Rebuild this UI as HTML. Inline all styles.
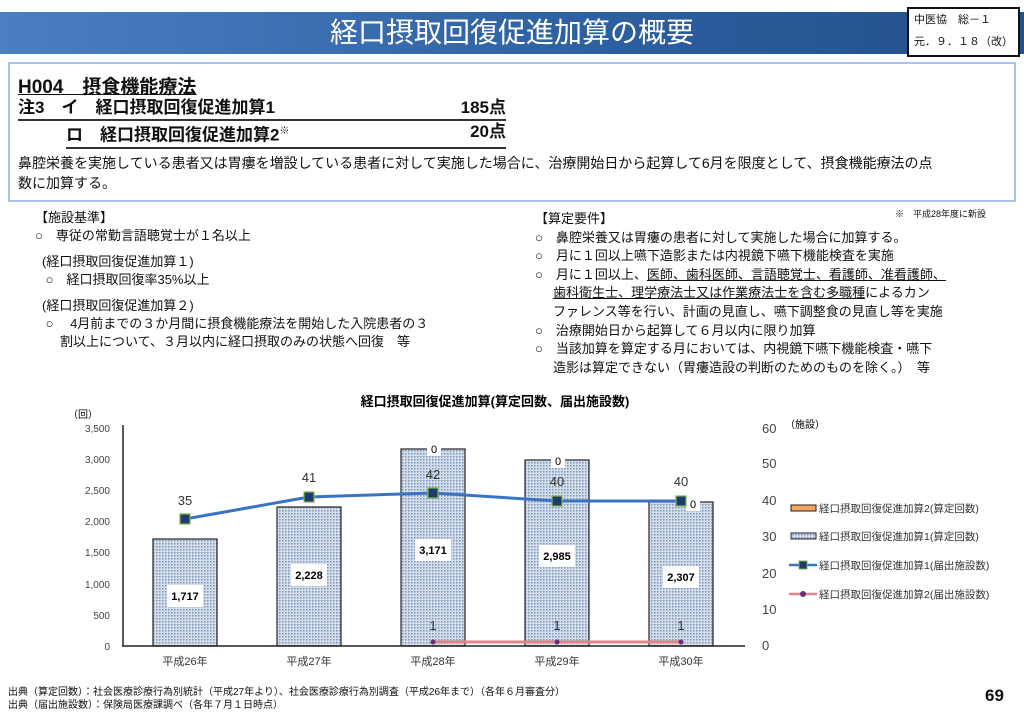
<!DOCTYPE html><html><head><meta charset="utf-8"><style>
body{margin:0;width:1024px;height:715px;background:#fff;position:relative;overflow:hidden;font-family:"Liberation Sans","Noto Sans CJK JP",sans-serif;color:#111}
.a{position:absolute;white-space:nowrap}
</style></head><body>
<div class="a" style="left:0;top:12px;width:1024px;height:42px;background:linear-gradient(90deg,#4a7fc2,#2c5f9f 60%,#23508a)"></div>
<div class="a" style="left:0;top:12px;width:1024px;text-align:center;color:#fff;font-size:28px;line-height:42px;padding-right:10px">経口摂取回復促進加算の概要</div>
<div class="a" style="left:907px;top:7px;width:104px;height:46px;background:#fff;border:2px solid #111;font-size:11px;line-height:22px;padding-left:5px;overflow:hidden">中医協　総－１<br>元．９．１８（改）</div>
<div class="a" style="left:8px;top:62px;width:1004px;height:136px;border:2px solid #a9c4e8"></div>
<div class="a" style="left:18px;top:72px;font-size:19px;font-weight:bold;text-decoration:underline">H004　摂食機能療法</div>
<div class="a" style="left:18px;top:97px;width:488px;font-size:17px;font-weight:bold;border-bottom:2px solid #333;line-height:22px">注3　イ　経口摂取回復促進加算1<span style="position:absolute;right:0">185点</span></div>
<div class="a" style="left:66px;top:121px;width:440px;font-size:17px;font-weight:bold;border-bottom:2px solid #333;line-height:22px">ロ　経口摂取回復促進加算2<sup style="font-size:10px">※</sup><span style="position:absolute;right:0">20点</span></div>
<div class="a" style="left:18px;top:153px;font-size:14px;line-height:20px">鼻腔栄養を実施している患者又は胃瘻を増設している患者に対して実施した場合に、治療開始日から起算して6月を限度として、摂食機能療法の点<br>数に加算する。</div>
<div class="a" style="left:895px;top:207px;font-size:9px">※　平成28年度に新設</div>
<div class="a" style="left:35px;top:209px;font-size:13px;line-height:18px">【施設基準】<br>○　専従の常勤言語聴覚士が１名以上</div>
<div class="a" style="left:42px;top:253px;font-size:13px;line-height:18px">(経口摂取回復促進加算１)<br>&nbsp;○　経口摂取回復率35%以上</div>
<div class="a" style="left:42px;top:297px;font-size:13px;line-height:18px">(経口摂取回復促進加算２)<br>&nbsp;○　 4月前までの３か月間に摂食機能療法を開始した入院患者の３<br>&nbsp;&nbsp;&nbsp;&nbsp;&nbsp;割以上について、３月以内に経口摂取のみの状態へ回復　等</div>
<div class="a" style="left:535px;top:210px;font-size:13px;line-height:18.6px">【算定要件】<br>○　鼻腔栄養又は胃瘻の患者に対して実施した場合に加算する。<br>○　月に１回以上嚥下造影または内視鏡下嚥下機能検査を実施<br>○　月に１回以上、<u>医師、歯科医師、言語聴覚士、看護師、准看護師、</u><br>&nbsp;&nbsp;&nbsp;&nbsp;&nbsp;<u>歯科衛生士、理学療法士又は作業療法士を含む多職種</u>によるカン<br>&nbsp;&nbsp;&nbsp;&nbsp;&nbsp;ファレンス等を行い、計画の見直し、嚥下調整食の見直し等を実施<br>○　治療開始日から起算して６月以内に限り加算<br>○　当該加算を算定する月においては、内視鏡下嚥下機能検査・嚥下<br>&nbsp;&nbsp;&nbsp;&nbsp;&nbsp;造影は算定できない（胃瘻造設の判断のためのものを除く。）　等</div>
<svg class="a" style="left:0;top:385px" width="1024" height="300" viewBox="0 385 1024 300" font-family="Liberation Sans,Noto Sans CJK JP,sans-serif">
<defs><pattern id="p" width="3" height="3" patternUnits="userSpaceOnUse"><rect width="3" height="3" fill="#d5deeb"/><rect width="1.5" height="1.5" fill="#7b93b8"/></pattern></defs>
<text x="495" y="406" font-size="13" font-weight="bold" text-anchor="middle">経口摂取回復促進加算(算定回数、届出施設数)</text>
<text x="68" y="418" font-size="10">（回）</text>
<g font-size="10" fill="#444" text-anchor="end">
<text x="110" y="432">3,500</text><text x="110" y="463">3,000</text><text x="110" y="494">2,500</text><text x="110" y="525">2,000</text><text x="110" y="556">1,500</text><text x="110" y="588">1,000</text><text x="110" y="619">500</text><text x="110" y="650">0</text></g>
<g font-size="13" fill="#444"><text x="762" y="433">60</text><text x="762" y="468">50</text><text x="762" y="505">40</text><text x="762" y="541">30</text><text x="762" y="578">20</text><text x="762" y="614">10</text><text x="762" y="650">0</text></g>
<text x="785" y="428" font-size="10">（施設）</text>
<line x1="123" y1="425" x2="123" y2="647" stroke="#222" stroke-width="1.5"/>
<g stroke="#222" stroke-width="1.2" fill="url(#p)">
<rect x="153" y="539" width="64" height="107"/><rect x="277" y="507" width="64" height="139"/><rect x="401" y="449" width="64" height="197"/><rect x="525" y="460" width="64" height="186"/><rect x="649" y="502" width="64" height="144"/></g>
<line x1="123" y1="646" x2="745" y2="646" stroke="#222" stroke-width="1.5"/>
<g font-size="11" font-weight="bold" text-anchor="middle">
<rect x="167" y="585" width="36" height="22" fill="#fff"/><text x="185" y="600">1,717</text>
<rect x="291" y="564" width="36" height="22" fill="#fff"/><text x="309" y="579">2,228</text>
<rect x="415" y="539" width="36" height="22" fill="#fff"/><text x="433" y="554">3,171</text>
<rect x="539" y="545" width="36" height="22" fill="#fff"/><text x="557" y="560">2,985</text>
<rect x="663" y="566" width="36" height="22" fill="#fff"/><text x="681" y="581">2,307</text>
<rect x="427" y="442" width="14" height="14" fill="#fff"/><text x="434" y="453" font-weight="normal">0</text>
<rect x="551" y="454" width="14" height="14" fill="#fff"/><text x="558" y="465" font-weight="normal">0</text>
<rect x="686" y="497" width="14" height="14" fill="#fff"/><text x="693" y="508" font-weight="normal">0</text>
</g>
<polyline points="185,519 309,497 433,493 557,501 681,501" fill="none" stroke="#3b73c4" stroke-width="3"/>
<g fill="#1f3a6b" stroke="#7ab648" stroke-width="1.2"><rect x="180" y="514" width="10" height="10"/><rect x="304" y="492" width="10" height="10"/><rect x="428" y="488" width="10" height="10"/><rect x="552" y="496" width="10" height="10"/><rect x="676" y="496" width="10" height="10"/></g>
<g font-size="13" text-anchor="middle" fill="#333"><text x="185" y="505">35</text><text x="309" y="482">41</text><text x="433" y="479">42</text><text x="557" y="486">40</text><text x="681" y="486">40</text>
<text x="433" y="630">1</text><text x="557" y="630">1</text><text x="681" y="630">1</text></g>
<line x1="433" y1="642" x2="681" y2="642" stroke="#e0858a" stroke-width="3"/>
<g fill="#6b2f7a"><circle cx="433" cy="642" r="2.5"/><circle cx="557" cy="642" r="2.5"/><circle cx="681" cy="642" r="2.5"/></g>
<g font-size="11" fill="#333" text-anchor="middle"><text x="185" y="665">平成26年</text><text x="309" y="665">平成27年</text><text x="433" y="665">平成28年</text><text x="557" y="665">平成29年</text><text x="681" y="665">平成30年</text></g>
<g font-size="10.5" fill="#333">
<rect x="791" y="505" width="25" height="6" fill="#f4a460" stroke="#222"/><text x="819" y="512">経口摂取回復促進加算2(算定回数)</text>
<rect x="791" y="533" width="25" height="6" fill="url(#p)" stroke="#222"/><text x="819" y="540">経口摂取回復促進加算1(算定回数)</text>
<line x1="789" y1="565" x2="817" y2="565" stroke="#3b73c4" stroke-width="2.5"/><rect x="799" y="561" width="8" height="8" fill="#1f3a6b" stroke="#7ab648"/><text x="819" y="569">経口摂取回復促進加算1(届出施設数)</text>
<line x1="789" y1="594" x2="817" y2="594" stroke="#e0858a" stroke-width="2.5"/><circle cx="803" cy="594" r="3" fill="#6b2f7a"/><text x="819" y="598">経口摂取回復促進加算2(届出施設数)</text>
</g>
</svg>
<div class="a" style="left:8px;top:686px;font-size:10px;line-height:13px">出典（算定回数）：社会医療診療行為別統計（平成27年より）、社会医療診療行為別調査（平成26年まで）（各年６月審査分）<br>出典（届出施設数）：保険局医療課調べ（各年７月１日時点）</div>
<div class="a" style="left:985px;top:686px;font-size:17px;font-weight:bold">69</div>
</body></html>
